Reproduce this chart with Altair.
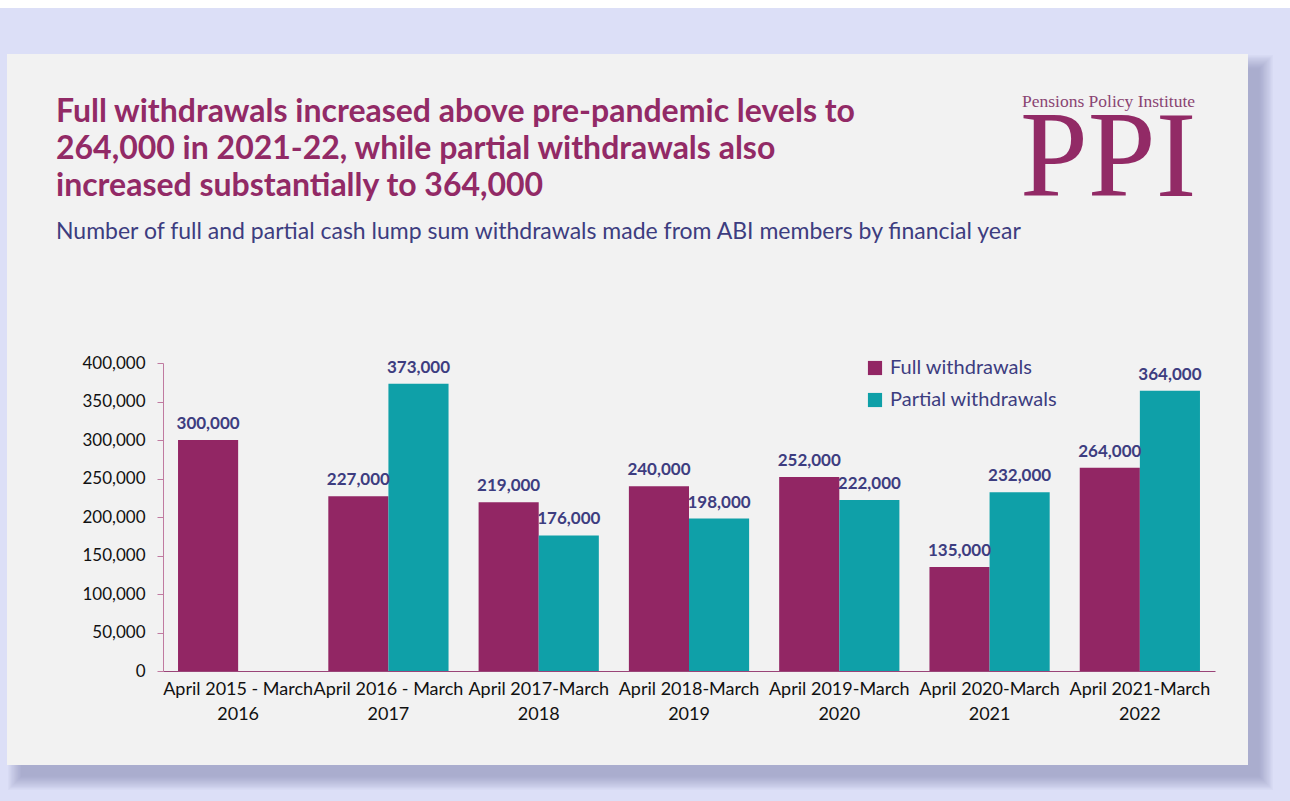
import altair as alt
import pandas as pd

categories = [
    "April 2015 - March\n2016",
    "April 2016 - March\n2017",
    "April 2017-March\n2018",
    "April 2018-March\n2019",
    "April 2019-March\n2020",
    "April 2020-March\n2021",
    "April 2021-March\n2022",
]
series_names = ["Full withdrawals", "Partial withdrawals"]
full_values = [300000, 227000, 219000, 240000, 252000, 135000, 264000]
partial_values = [None, 373000, 176000, 198000, 222000, 232000, 364000]
y_ticks = [0, 50000, 100000, 150000, 200000, 250000, 300000, 350000, 400000]
bar_colors = ["#922664", "#0fa0a8"]

title_lines = [
    "Full withdrawals increased above pre-pandemic levels to",
    "264,000 in 2021-22, while partial withdrawals also",
    "increased substantially to 364,000",
]
subtitle = "Number of full and partial cash lump sum withdrawals made from ABI members by financial year"

rows = []
for c, f, p in zip(categories, full_values, partial_values):
    rows.append({"cat": c, "series": series_names[0], "value": f})
    if p is not None:
        rows.append({"cat": c, "series": series_names[1], "value": p})
df = pd.DataFrame(rows)
df["label"] = df["value"].map(lambda v: f"{int(v):,}")

W, H = 1052, 308
OX, OY = 163, 363  # plot origin in page pixels

one = pd.DataFrame({"k": [0]})


def px(x):
    return x - OX


def py(y):
    return y - OY


def rect(x1, y1, x2, y2, color, opacity=1.0):
    return alt.Chart(one).mark_rect(color=color, opacity=opacity).encode(
        x=alt.value(px(x1)), x2=alt.value(px(x2)),
        y=alt.value(py(y1)), y2=alt.value(py(y2)),
    )


layers = []
# page background
layers.append(rect(0, 8, 1290, 801, "#dcdff7"))
# card shadow
for i in range(12):
    e = 12 - i * 1.2
    layers.append(rect(7 + 13 - e, 54 + 13 - e, 1248 + 13 + e, 765 + 13 + e, "#5a5f8f", 0.04))
# card
layers.append(rect(7, 54, 1248, 765, "#f2f2f2"))

# title
layers.append(
    alt.Chart(one).mark_text(
        text="\n".join(title_lines), lineBreak="\n", lineHeight=37,
        align="left", baseline="alphabetic", font="Lato", fontSize=32,
        fontWeight="bold", color="#922a66",
    ).encode(x=alt.value(px(56)), y=alt.value(py(122)))
)
layers.append(
    alt.Chart(one).mark_text(
        text=subtitle, align="left", baseline="alphabetic", font="Lato",
        fontSize=23, color="#3d3d80",
    ).encode(x=alt.value(px(56)), y=alt.value(py(239)))
)
# logo
layers.append(
    alt.Chart(one).mark_text(
        text="Pensions Policy Institute", align="left", baseline="alphabetic",
        font="Liberation Serif", fontSize=17.5, color="#8a4572",
    ).encode(x=alt.value(px(1022)), y=alt.value(py(107)))
)
layers.append(
    alt.Chart(one).mark_text(
        text="PPI", align="left", baseline="alphabetic",
        font="Liberation Serif", fontSize=122, color="#922a66",
    ).encode(x=alt.value(px(1020)), y=alt.value(py(196)))
)

x_enc = alt.X(
    "cat:N", sort=categories, title=None,
    scale=alt.Scale(paddingInner=0.2, paddingOuter=0.1),
    axis=alt.Axis(
        labelExpr="split(datum.label, '\\n')", labelAngle=0, labelFontSize=18,
        labelFont="Lato", labelColor="#111111", labelLineHeight=25,
        labelPadding=9, labelOverlap=False, labelLimit=0, labelBound=False,
        ticks=False, domainColor="#9a4478", domainWidth=1, zindex=1,
    ),
)
xoff_enc = alt.XOffset("series:N", scale=alt.Scale(domain=series_names, paddingInner=0, paddingOuter=0))
y_enc = alt.Y(
    "value:Q", title=None,
    scale=alt.Scale(domain=[0, 400000]),
    axis=alt.Axis(
        values=y_ticks, format=",.0f", grid=False,
        labelFontSize=17, labelFont="Lato", labelColor="#111111",
        labelPadding=12, tickSize=6, tickColor="#c07aa0", domainColor="#c07aa0",
        zindex=1,
    ),
)

bars = alt.Chart(df).mark_bar().encode(
    x=x_enc, xOffset=xoff_enc, y=y_enc,
    color=alt.Color(
        "series:N", scale=alt.Scale(domain=series_names, range=bar_colors),
        legend=alt.Legend(
            title=None, orient="none", legendX=702, legendY=-5,
            symbolType="square", symbolSize=200, symbolStrokeWidth=0,
            labelFontSize=20, labelFont="Lato", labelColor="#3d3d80",
            labelLimit=400, rowPadding=12, symbolOffset=0, labelOffset=5,
            zindex=1,
        ),
    ),
)
labels = alt.Chart(df).mark_text(
    baseline="bottom", dy=-7, font="Lato", fontSize=17, fontWeight="bold",
    color="#3d3d80",
).encode(x=x_enc, xOffset=xoff_enc, y=y_enc, text="label:N")

layers += [bars, labels]

chart = alt.layer(*layers).properties(
    width=W, height=H,
    autosize=alt.AutoSizeParams(type="none"),
    padding={"left": OX, "top": OY, "right": 1290 - OX - W, "bottom": 801 - OY - H},
    background="#ffffff",
).configure_view(stroke=None)

chart.save("out.html", embed_options={"renderer": "svg", "actions": False})
